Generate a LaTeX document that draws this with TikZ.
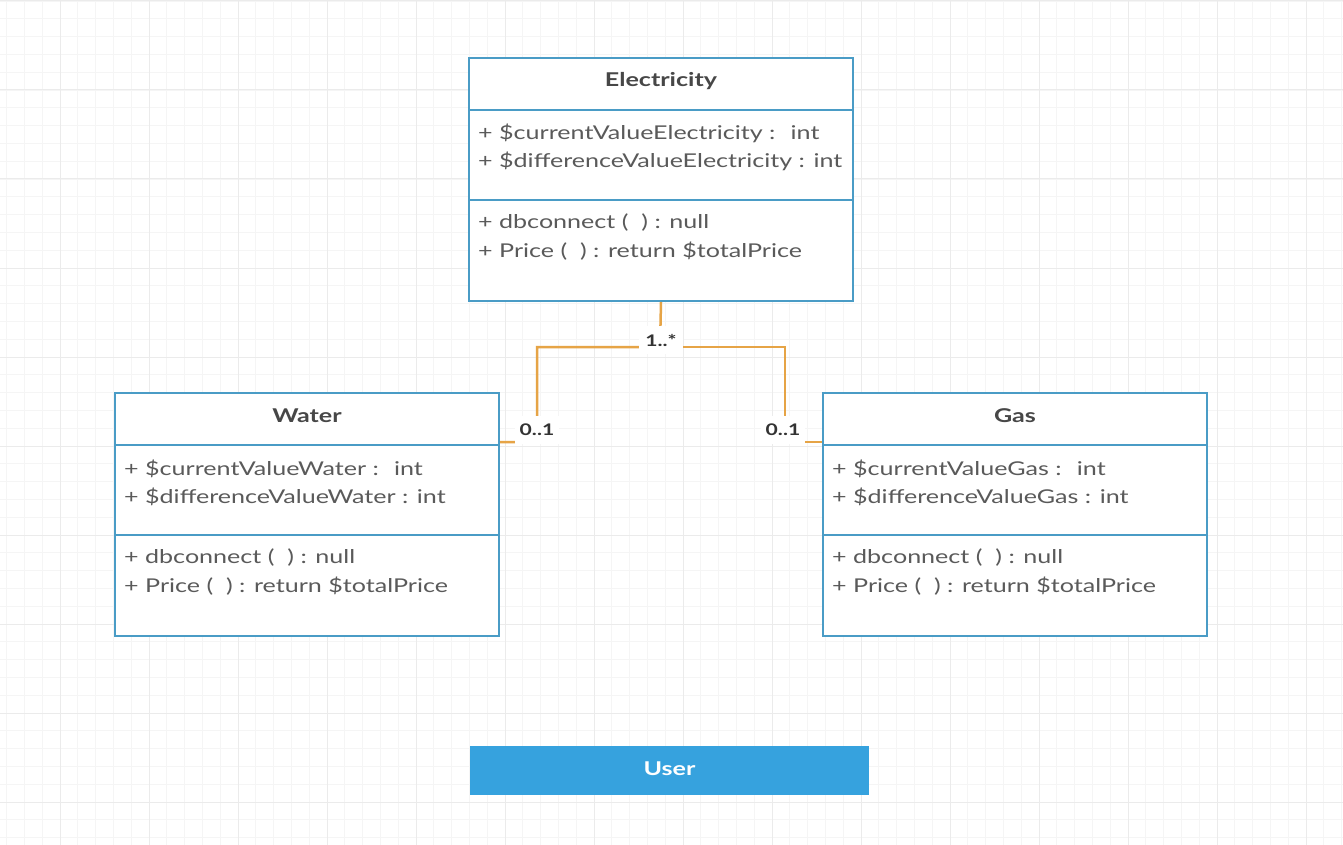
\documentclass[tikz,border=0pt]{standalone}
\usepackage{fontspec}
\setmainfont{Lato}[FakeStretch=1.32]

\definecolor{umlblue}{HTML}{4A9CC6}
\definecolor{linkorange}{HTML}{E6A446}
\definecolor{textgray}{HTML}{5A5A5A}
\definecolor{userblue}{HTML}{36A2DE}

\tikzset{
  classbox/.style={draw=umlblue, line width=2pt, fill=white, anchor=north west,
    minimum width=384pt, minimum height=243pt, inner sep=0pt},
  divider/.style={umlblue, line width=2pt},
  classname/.style={anchor=base, inner sep=0pt, text=black!72,
    font=\fontsize{19}{20}\selectfont\bfseries},
  member/.style={anchor=base west, inner sep=0pt, text=textgray,
    font=\fontsize{19}{20}\selectfont},
  mult/.style={fill=white, text=black!80, inner sep=0pt,
    minimum width=44pt, minimum height=28pt, font=\fontsize{16}{20}\selectfont\bfseries},
  link/.style={draw=linkorange, line width=2.5pt},
  gridminor/.style={black!4, line width=0.8pt},
  gridmajor/.style={black!8, line width=1pt}
}

% one class box: node name, top left corner, class name
\newcommand{\umlclass}[3]{%
  \node[classbox] (#1) at (#2) {};
  \draw[divider] ([yshift=-53pt]#1.north west) -- ([yshift=-53pt]#1.north east);
  \draw[divider] ([yshift=-143pt]#1.north west) -- ([yshift=-143pt]#1.north east);
  \node[classname] (#1-name) at ([yshift=-30pt]#1.north) {#3};
  \node[member] (#1-cur) at ([xshift=10pt,yshift=-83pt]#1.north west) {+ \$currentValue#3 :\hspace{0.8em}int};
  \node[member] (#1-diff) at ([xshift=10pt,yshift=-111pt]#1.north west) {+ \$differenceValue#3 : int};
  \node[member] (#1-db) at ([xshift=10pt,yshift=-171pt]#1.north west) {+ dbconnect (~~) : null};
  \node[member] (#1-price) at ([xshift=10pt,yshift=-200pt]#1.north west) {+ Price (~~) : return \$totalPrice};
}

\begin{document}
\begin{tikzpicture}[x=1pt,y=-1pt]
  \useasboundingbox (0,0) rectangle (1343,845);
  \fill[white] (0,0) rectangle (1343,845);

  % background grid
  \foreach \gx in {6.6,24.4,...,1343} \draw[gridminor] (\gx,0) -- (\gx,845);
  \foreach \gy in {1,18.8,...,845} \draw[gridminor] (0,\gy) -- (1343,\gy);
  \foreach \gx in {60,149,...,1343} \draw[gridmajor] (\gx,0) -- (\gx,845);
  \foreach \gy in {1,90,...,845} \draw[gridmajor] (0,\gy) -- (1343,\gy);

  % classes
  \umlclass{elec}{468,57}{Electricity}
  \umlclass{water}{114,392}{Water}
  \umlclass{gas}{822,392}{Gas}

  % associations
  \coordinate (hub) at (660,347);
  \coordinate (wbend) at (537,442);
  \coordinate (gbend) at (785,442);
  \draw[link] (elec.south) -- (hub) -| (wbend) -- ([yshift=-50pt]water.north east);
  \draw[link] (hub) -| (gbend) -- ([yshift=-50pt]gas.north west);

  \node[mult] (m-elec) at (661,340) {1..*};
  \node[mult] (m-water) at (537,430) {0..1};
  \node[mult] (m-gas) at (783,430) {0..1};

  % user bar
  \node[fill=userblue, minimum width=399pt, minimum height=49pt, inner sep=0pt,
        text=white, font=\fontsize{19}{20}\selectfont\bfseries] (user) at (669.5,770.5) {\raisebox{4pt}{User}};
\end{tikzpicture}
\end{document}
